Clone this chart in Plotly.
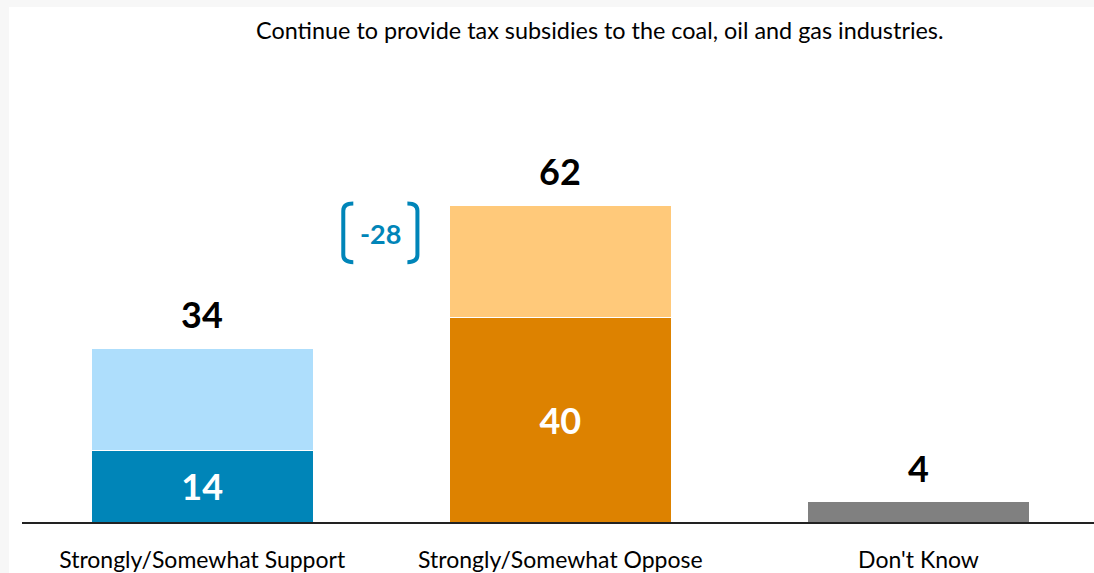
import plotly.graph_objects as go

categories = ["Strongly/Somewhat Support", "Strongly/Somewhat Oppose", "Don't Know"]
strong = [14, 40, 4]
somewhat = [20, 22, 0]
totals = [34, 62, 4]
strong_labels = ["14", "40", ""]
strong_colors = ["#0085B8", "#DD8200", "#808080"]
somewhat_colors = ["#AEDEFC", "#FFC97A", "#808080"]
gap_label = "-28"
title = "Continue to provide tax subsidies to the coal, oil and gas industries."

FONT = "Lato, Open Sans, sans-serif"
x = list(range(len(categories)))

fig = go.Figure()
fig.add_trace(go.Bar(
    x=x, y=strong, width=0.62,
    marker=dict(color=strong_colors, line=dict(color="white", width=1)),
    text=strong_labels, textposition="inside", insidetextanchor="middle",
    textfont=dict(family=FONT, size=36, color="white", weight="bold"),
    hoverinfo="skip", showlegend=False,
))
fig.add_trace(go.Bar(
    x=x, y=somewhat, width=0.62,
    marker=dict(color=somewhat_colors, line=dict(color="white", width=1)),
    hoverinfo="skip", showlegend=False,
))

for xi, t in zip(x, totals):
    fig.add_annotation(x=xi, y=t, text=f"<b>{t}</b>", showarrow=False,
                       yanchor="bottom", yshift=10,
                       font=dict(family=FONT, size=36, color="black"))

# bracket with gap label
bc = "#0085B8"
y_top, y_bot = 62.3, 50.8
fig.add_shape(type="path", xref="x", yref="y",
              path=f"M 0.422,{y_top} Q 0.394,{y_top} 0.394,{y_top-1.4} L 0.394,{y_bot+1.4} Q 0.394,{y_bot} 0.422,{y_bot}",
              line=dict(color=bc, width=4))
fig.add_shape(type="path", xref="x", yref="y",
              path=f"M 0.573,{y_top} Q 0.601,{y_top} 0.601,{y_top-1.4} L 0.601,{y_bot+1.4} Q 0.601,{y_bot} 0.573,{y_bot}",
              line=dict(color=bc, width=4))
fig.add_annotation(x=0.497, y=56.5, text=f"<b>{gap_label}</b>", showarrow=False,
                   font=dict(family=FONT, size=27, color=bc))

# background panel
fig.add_shape(type="rect", xref="paper", yref="paper", layer="below",
              x0=-0.0121, x1=1.0, y0=-0.1104, y1=1.1147,
              fillcolor="white", line=dict(width=0))

fig.add_annotation(xref="paper", yref="paper", x=0.539, y=1.065, text=title,
                   showarrow=False, yanchor="middle",
                   font=dict(family=FONT, size=23.4, color="black"))

fig.update_layout(
    width=1094, height=573,
    margin=dict(l=22, r=0, t=60, b=51),
    barmode="stack",
    paper_bgcolor="#F7F7F7",
    plot_bgcolor="white",
    xaxis=dict(range=[-0.503, 2.49], tickvals=x, ticktext=categories,
               showline=True, linecolor="#222222", linewidth=2,
               showgrid=False, zeroline=False, ticks="",
               automargin=False, ticklabelstandoff=16,
               tickfont=dict(family=FONT, size=23, color="black")),
    yaxis=dict(range=[0, 90.36], visible=False, showgrid=False, automargin=False),
)
fig.write_html("out.html", config={"displayModeBar": False},
               post_script="document.body.style.margin='0';document.body.style.overflow='hidden';")
